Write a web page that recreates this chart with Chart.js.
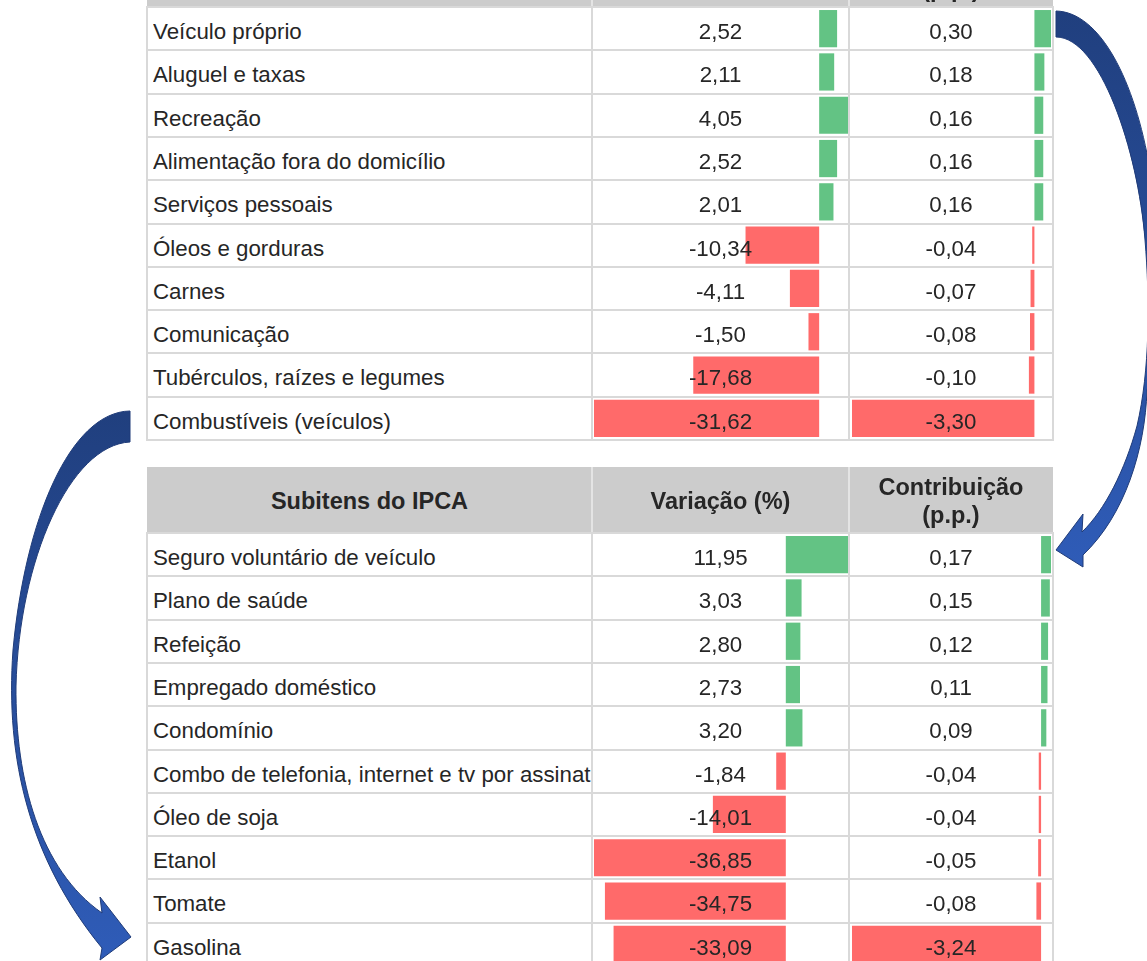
<!DOCTYPE html>
<html><head><meta charset="utf-8">
<script src="https://cdn.jsdelivr.net/npm/chart.js@4.4.1/dist/chart.umd.min.js"></script>
<style>
html,body{margin:0;padding:0;background:#fff;width:1147px;height:961px;overflow:hidden;}
#stage{position:relative;width:1147px;height:961px;overflow:hidden;font-family:"Liberation Sans",Arial,sans-serif;color:#262626;}
.cv{position:absolute;z-index:1;}
.ln{position:absolute;background:#d9d9d9;z-index:0;}
.hsep{position:absolute;background:#e4e4e4;z-index:0;}
.hdr{position:absolute;background:#cccccc;z-index:0;}
.tx{position:absolute;z-index:2;font-size:22.3px;white-space:nowrap;overflow:hidden;box-sizing:border-box;}
.hd{font-size:23.5px;font-weight:bold;display:flex;flex-direction:column;align-items:center;justify-content:center;text-align:center;line-height:28px;}
svg{position:absolute;left:0;top:0;z-index:3;}
</style></head>
<body><div id="stage"></div>
<script>
// ---- data ----
const topItems = ["Veículo próprio","Aluguel e taxas","Recreação","Alimentação fora do domicílio","Serviços pessoais","Óleos e gorduras","Carnes","Comunicação","Tubérculos, raízes e legumes","Combustíveis (veículos)"];
const topVar = [2.52, 2.11, 4.05, 2.52, 2.01, -10.34, -4.11, -1.50, -17.68, -31.62];
const topContrib = [0.30, 0.18, 0.16, 0.16, 0.16, -0.04, -0.07, -0.08, -0.10, -3.30];
const bottomItems = ["Seguro voluntário de veículo","Plano de saúde","Refeição","Empregado doméstico","Condomínio","Combo de telefonia, internet e tv por assinatura","Óleo de soja","Etanol","Tomate","Gasolina"];
const bottomVar = [11.95, 3.03, 2.80, 2.73, 3.20, -1.84, -14.01, -36.85, -34.75, -33.09];
const bottomContrib = [0.17, 0.15, 0.12, 0.11, 0.09, -0.04, -0.04, -0.05, -0.08, -3.24];
const headerLabels = [["Subitens do IPCA"], ["Variação (%)"], ["Contribuição", "(p.p.)"]];

// ---- layout ----
const GREEN = '#63c384', RED = '#ff6a6a';
const COLS = [147, 592, 849, 1053];
const ROWH = 43.3, HEADH = 66;
const stage = document.getElementById('stage');
const fmt = v => v.toFixed(2).replace('.', ',');

function div(cls, l, t, w, h, html) {
  const d = document.createElement('div');
  d.className = cls;
  d.style.left = l + 'px'; d.style.top = t + 'px';
  d.style.width = w + 'px'; d.style.height = h + 'px';
  if (html !== undefined) d.innerHTML = html;
  stage.appendChild(d);
  return d;
}

function barChart(labels, vals, left, top, width, height) {
  const c = document.createElement('canvas');
  c.className = 'cv';
  c.width = width; c.height = height;
  c.style.left = left + 'px'; c.style.top = top + 'px';
  c.style.width = width + 'px'; c.style.height = height + 'px';
  stage.appendChild(c);
  new Chart(c, {
    type: 'bar',
    data: {
      labels: labels,
      datasets: [{
        data: vals,
        backgroundColor: vals.map(v => v >= 0 ? GREEN : RED),
        borderWidth: 0,
        barPercentage: 0.86,
        categoryPercentage: 1
      }]
    },
    options: {
      indexAxis: 'y', responsive: false, animation: false,
      layout: { padding: 0 },
      plugins: { legend: { display: false }, tooltip: { enabled: false } },
      scales: {
        x: { display: false, min: Math.min(...vals), max: Math.max(...vals) },
        y: { display: false }
      }
    }
  });
}

const tables = [
  { items: topItems, vr: topVar, ct: topContrib, headTop: 7 - HEADH, rowsTop: 7 },
  { items: bottomItems, vr: bottomVar, ct: bottomContrib, headTop: 467, rowsTop: 533 }
];

tables.forEach(t => {
  const n = t.items.length;
  const W = COLS[3] - COLS[0];
  // header
  div('hdr', COLS[0], t.headTop, W, HEADH);
  div('hsep', COLS[1] - 1, t.headTop, 2, HEADH);
  div('hsep', COLS[2] - 1, t.headTop, 2, HEADH);
  headerLabels.forEach((lines, k) => {
    div('tx hd', COLS[k], t.headTop + 1, COLS[k + 1] - COLS[k], HEADH, lines.join('<br>'));
  });
  // grid
  for (let i = 0; i <= n; i++) div('ln', COLS[0] - 1, t.rowsTop + i * ROWH - 1, W + 2, 2);
  COLS.forEach(x => div('ln', x - 1, t.rowsTop, 2, n * ROWH));
  // cells
  for (let i = 0; i < n; i++) {
    const y = t.rowsTop + i * ROWH + 3;
    const a = div('tx', COLS[0] + 6, y, COLS[1] - COLS[0] - 7, ROWH, t.items[i]);
    a.style.lineHeight = ROWH + 'px';
    const b = div('tx', COLS[1], y, COLS[2] - COLS[1], ROWH, fmt(t.vr[i]));
    b.style.lineHeight = ROWH + 'px'; b.style.textAlign = 'center';
    const c = div('tx', COLS[2], y, COLS[3] - COLS[2], ROWH, fmt(t.ct[i]));
    c.style.lineHeight = ROWH + 'px'; c.style.textAlign = 'center';
  }
  // data bars
  barChart(t.items, t.vr, COLS[1] + 2, t.rowsTop, 254, n * ROWH);
  barChart(t.items, t.ct, COLS[2] + 3, t.rowsTop, 199, n * ROWH);
});

// ---- decorative arrows ----
const svgNS = 'http://www.w3.org/2000/svg';
const svg = document.createElementNS(svgNS, 'svg');
svg.setAttribute('width', 1147); svg.setAttribute('height', 961);
svg.innerHTML = `
<defs>
<linearGradient id="gR" gradientUnits="userSpaceOnUse" x1="0" y1="10" x2="0" y2="570">
<stop offset="0" stop-color="#203f7e"/><stop offset="1" stop-color="#2f5cb8"/></linearGradient>
<linearGradient id="gL" gradientUnits="userSpaceOnUse" x1="0" y1="410" x2="0" y2="960">
<stop offset="0" stop-color="#203f7e"/><stop offset="1" stop-color="#2f5cb8"/></linearGradient>
</defs>
<path fill="url(#gR)" stroke="#1f3b78" stroke-width="1" d="M1056,11 C1100,12 1135,80 1150,170 C1165,260 1160,350 1147,390 C1145,450 1125,515 1083,555 L1083,567 L1056,550 L1083,514 L1082,532 C1105,510 1125,470 1137,426 C1150,370 1150,300 1145,240 C1138,150 1100,37 1056,37 Z"/>
<path fill="url(#gL)" stroke="#1f3b78" stroke-width="1" d="M130,411 C70,412 25,520 13,650 C5,760 30,860 102,948 L100,960 L131,937 L100,897 L102,913 C40,870 15,780 16,686 C19,560 70,445 130,442 Z"/>`;
stage.appendChild(svg);
</script>
</body></html>
